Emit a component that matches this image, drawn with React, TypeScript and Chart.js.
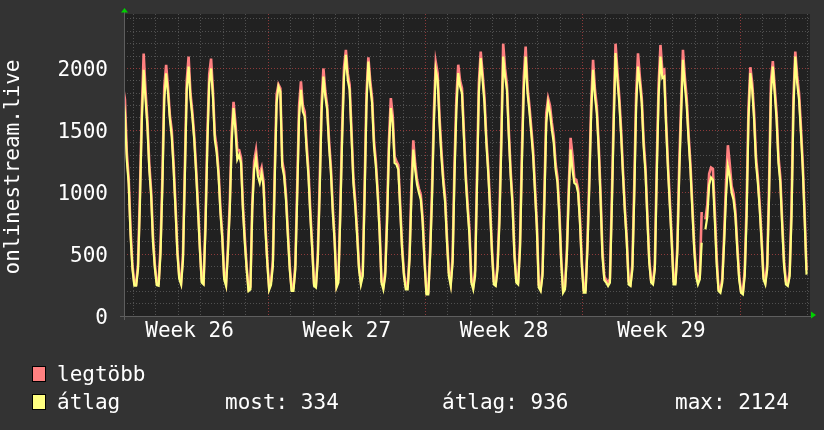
import React, { useEffect, useRef } from 'react';
import { Chart, registerables } from 'chart.js';

Chart.register(...registerables);

// time axis: hours counted from Monday 00:00 of week 26, samples every 2 hours
const START_HOUR = 13;
const STEP_HOURS = 2;
const X_MIN = 14;
const X_MAX = 746.7;
const Y_MAX = 2440;

const weekLabels = ['Week 26', 'Week 27', 'Week 28', 'Week 29'];
const yTickLabels = [0, 500, 1000, 1500, 2000];
const legendNames = ['legtöbb', 'átlag'];
const legendStats = ['most: 334', 'átlag: 936', 'max: 2124'];

// átlag (average)
const avgWeek26 = [
  1780, 1640, 1260, 1070, 650, 380,
  245, 245, 380, 900, 1570, 1990, 1750, 1530, 1180, 970, 590, 380,
  250, 245, 500, 1050, 1750, 1960, 1800, 1590, 1450, 1180, 860, 510,
  300, 255, 450, 1130, 1830, 2015, 1760, 1610, 1425, 1155, 860, 540,
  270, 255, 700, 1370, 1880, 2000, 1770, 1425, 1320, 1130, 835, 620,
  296, 243, 510, 860, 1400, 1680, 1505, 1264, 1300, 1237, 860, 592,
  377, 202, 215, 860, 1183, 1277, 1130, 1075, 1156, 1049, 700, 430,
];
const avgWeek27 = [
  210, 250, 404, 1100, 1720, 1855, 1815, 1210, 1130, 940, 645, 377,
  202, 202, 377, 968, 1613, 1828, 1653, 1613, 1344, 1130, 807, 538,
  243, 230, 457, 995, 1640, 1935, 1774, 1667, 1371, 1156, 834, 592,
  230, 270, 800, 1435, 1935, 2110, 1908, 1828, 1452, 1075, 887, 645,
  377, 255, 323, 968, 1720, 2056, 1855, 1720, 1371, 1210, 968, 672,
  270, 215, 323, 753, 1344, 1680, 1560, 1237, 1224, 1183, 860, 538,
  323, 215, 215, 457, 968, 1344, 1183, 1062, 995, 941, 753, 430,
];
const avgWeek28 = [
  175, 175, 485, 950, 1560, 1989, 1908, 1560, 1290, 1075, 914, 592,
  323, 243, 430, 1130, 1667, 1962, 1855, 1801, 1452, 1102, 860, 645,
  270, 215, 323, 1049, 1801, 2083, 1908, 1720, 1398, 1156, 860, 511,
  255, 243, 377, 753, 1371, 2096, 1935, 1828, 1452, 1130, 887, 484,
  270, 255, 538, 1237, 1828, 2096, 1801, 1653, 1478, 1290, 995, 700,
  230, 202, 323, 914, 1560, 1720, 1640, 1505, 1398, 1183, 1075, 807,
  430, 188, 215, 484, 968, 1344, 1183, 1075, 1062, 995, 753, 404,
];
const avgWeek29 = [
  188, 188, 538, 1049, 1640, 1989, 1774, 1640, 1344, 940, 484, 290,
  270, 243, 270, 860, 1532, 2124, 1908, 1720, 1452, 1130, 834, 592,
  255, 243, 377, 968, 1694, 2015, 1881, 1720, 1371, 1156, 780, 430,
  270, 255, 377, 1130, 1774, 2096, 1922, 1935, 1532, 1183, 887, 592,
  255, 255, 511, 1130, 1613, 2070, 1868, 1700, 1425, 1183, 860, 538,
  323, 255, 296, 592, null, 700, 800, 1060, 1120, 1100, 780, 420,
  202, 188, 270, 592, 968, 1210, 1130, 995, 941, 807, 538, 296,
];
const avgWeek30 = [
  188, 175, 323, 807, 1586, 1962, 1828, 1586, 1237, 1075, 860, 592,
  296, 255, 377, 968, 1801, 2015, 1801, 1586, 1237, 1075, 726, 404,
  255, 243, 323, 807, 1667, 2096, 1881, 1747, 1478, 1183, 780, 334,
];

// legtöbb (maximum)
const maxWeek26 = [
  1850, 1750, 1320, 1110, 700, 410,
  270, 260, 420, 1000, 1650, 2120, 1820, 1580, 1230, 1010, 640, 410,
  270, 265, 560, 1120, 1850, 2030, 1850, 1620, 1500, 1230, 900, 540,
  320, 270, 500, 1200, 1900, 2096, 1800, 1650, 1460, 1200, 900, 570,
  290, 270, 760, 1450, 1950, 2080, 1820, 1470, 1360, 1170, 870, 650,
  320, 260, 560, 920, 1480, 1730, 1560, 1344, 1340, 1280, 900, 640,
  400, 220, 235, 900, 1250, 1340, 1180, 1150, 1200, 1090, 740, 460,
];
const maxWeek27 = [
  230, 280, 450, 1180, 1790, 1870, 1840, 1250, 1170, 980, 690, 410,
  220, 225, 420, 1050, 1700, 1895, 1700, 1650, 1400, 1180, 850, 570,
  260, 250, 500, 1080, 1720, 2000, 1820, 1700, 1420, 1200, 880, 620,
  250, 300, 870, 1520, 2010, 2150, 1960, 1870, 1500, 1120, 930, 690,
  400, 280, 360, 1040, 1800, 2090, 1900, 1760, 1420, 1250, 1010, 710,
  290, 240, 360, 830, 1420, 1760, 1620, 1290, 1250, 1220, 900, 570,
  350, 240, 240, 500, 1050, 1420, 1230, 1100, 1030, 980, 790, 460,
];
const maxWeek28 = [
  190, 190, 540, 1030, 1650, 2050, 1960, 1610, 1340, 1120, 960, 630,
  350, 270, 480, 1220, 1760, 2030, 1900, 1840, 1500, 1150, 910, 690,
  290, 240, 370, 1130, 1880, 2137, 1960, 1770, 1440, 1200, 900, 540,
  280, 260, 420, 830, 1460, 2200, 2000, 1870, 1500, 1170, 930, 520,
  290, 280, 600, 1330, 1930, 2177, 1850, 1700, 1520, 1340, 1040, 740,
  250, 220, 360, 990, 1640, 1760, 1700, 1560, 1450, 1230, 1120, 850,
  460, 210, 235, 530, 1040, 1440, 1300, 1110, 1100, 1030, 790, 440,
];
const maxWeek29 = [
  210, 210, 600, 1130, 1720, 2070, 1830, 1690, 1390, 990, 530, 320,
  290, 270, 300, 940, 1620, 2200, 1980, 1770, 1500, 1170, 870, 630,
  280, 260, 420, 1060, 1790, 2123, 1930, 1760, 1420, 1200, 820, 460,
  290, 275, 420, 1220, 1870, 2190, 1980, 1990, 1580, 1230, 930, 630,
  280, 275, 560, 1220, 1700, 2150, 1930, 1760, 1470, 1230, 900, 580,
  360, 290, 330, 840, null, 780, 900, 1150, 1200, 1190, 850, 480,
  220, 210, 300, 650, 1080, 1380, 1230, 1050, 990, 850, 580, 330,
];
const maxWeek30 = [
  205, 195, 370, 900, 1680, 2010, 1880, 1640, 1290, 1120, 900, 630,
  320, 280, 420, 1060, 1900, 2060, 1850, 1640, 1290, 1120, 770, 440,
  280, 265, 360, 900, 1760, 2137, 1940, 1800, 1530, 1230, 820, 370,
];

const COLORS = {
  page: '#333333',
  plot: '#212121',
  gridMinor: 'rgba(120,120,120,0.55)',
  gridMajor: 'rgba(190,70,70,0.7)',
  axis: '#5e5e5e',
  text: '#ffffff',
  avg: '#ffff80',
  max: '#ff8080',
  arrow: '#00d000',
};

const FONT = '"DejaVu Sans Mono", monospace';

const avgAll = [...avgWeek26, ...avgWeek27, ...avgWeek28, ...avgWeek29, ...avgWeek30];
const maxAll = [...maxWeek26, ...maxWeek27, ...maxWeek28, ...maxWeek29, ...maxWeek30];
const toPoints = (arr: (number | null)[]) =>
  arr.map((v, i) => ({ x: START_HOUR + i * STEP_HOURS, y: v }));

const dayTicks: number[] = [];
for (let h = 24; h < X_MAX; h += 24) dayTicks.push(h);
const hundredTicks: number[] = [];
for (let v = 0; v <= 2400; v += 100) hundredTicks.push(v);

const decorPlugin = {
  id: 'rrdDecor',
  beforeDraw(chart: any) {
    const { ctx, chartArea } = chart;
    ctx.save();
    ctx.fillStyle = COLORS.page;
    ctx.fillRect(0, 0, chart.width, chart.height);
    ctx.fillStyle = COLORS.plot;
    ctx.fillRect(chartArea.left, chartArea.top, chartArea.right - chartArea.left, chartArea.bottom - chartArea.top);
    ctx.restore();
  },
  afterDraw(chart: any) {
    const { ctx, chartArea } = chart;
    const xs = chart.scales.x;
    const ys = chart.scales.y;
    ctx.save();
    // axes
    ctx.strokeStyle = COLORS.axis;
    ctx.lineWidth = 1;
    ctx.beginPath();
    ctx.moveTo(chartArea.left + 0.5, chartArea.top - 2);
    ctx.lineTo(chartArea.left + 0.5, chartArea.bottom + 4);
    ctx.moveTo(chartArea.left - 4, chartArea.bottom + 0.5);
    ctx.lineTo(chartArea.right + 2, chartArea.bottom + 0.5);
    ctx.stroke();
    // arrows
    ctx.fillStyle = COLORS.arrow;
    ctx.beginPath();
    ctx.moveTo(chartArea.left + 0.5, chartArea.top - 6);
    ctx.lineTo(chartArea.left - 3, chartArea.top - 1.5);
    ctx.lineTo(chartArea.left + 4, chartArea.top - 1.5);
    ctx.closePath();
    ctx.fill();
    ctx.beginPath();
    ctx.moveTo(chartArea.right + 6, chartArea.bottom - 1);
    ctx.lineTo(chartArea.right + 1, chartArea.bottom - 4.5);
    ctx.lineTo(chartArea.right + 1, chartArea.bottom + 2.5);
    ctx.closePath();
    ctx.fill();

    ctx.fillStyle = COLORS.text;
    ctx.font = `21px ${FONT}`;
    // y tick labels
    ctx.textAlign = 'right';
    ctx.textBaseline = 'alphabetic';
    yTickLabels.forEach((v) => {
      ctx.fillText(String(v), chartArea.left - 16, ys.getPixelForValue(v) + 7.5);
    });
    // x week labels
    ctx.textAlign = 'center';
    weekLabels.forEach((lab, i) => {
      ctx.fillText(lab, xs.getPixelForValue(84 + 168 * i), 337);
    });
    // y title
    ctx.save();
    ctx.translate(19, (chartArea.top + chartArea.bottom) / 2 + 2);
    ctx.rotate(-Math.PI / 2);
    ctx.textAlign = 'center';
    ctx.fillText('onlinestream.live', 0, 0);
    ctx.restore();

    // legend
    const boxes = [
      { y: 366, color: COLORS.max },
      { y: 394, color: COLORS.avg },
    ];
    boxes.forEach((b) => {
      ctx.fillStyle = b.color;
      ctx.fillRect(32, b.y, 14, 16);
      ctx.strokeStyle = '#000';
      ctx.lineWidth = 1;
      ctx.strokeRect(32.5, b.y + 0.5, 13, 15);
    });
    ctx.fillStyle = COLORS.text;
    ctx.font = `21px ${FONT}`;
    ctx.textAlign = 'left';
    ctx.fillText(legendNames[0], 57, 381);
    ctx.fillText(legendNames[1], 57, 409);
    const statX = [225, 442, 675];
    legendStats.forEach((t, i) => ctx.fillText(t, statX[i], 409));
    ctx.restore();
  },
};

export default function App() {
  const ref = useRef<HTMLCanvasElement | null>(null);
  useEffect(() => {
    if (!ref.current) return;
    const chart = new Chart(ref.current, {
      type: 'line',
      data: {
        datasets: [
          {
            label: legendNames[1],
            data: toPoints(avgAll),
            borderColor: COLORS.avg,
            borderWidth: 2.2,
            pointRadius: 0,
            tension: 0,
            order: 0,
          },
          {
            label: legendNames[0],
            data: toPoints(maxAll),
            borderColor: COLORS.max,
            borderWidth: 2.6,
            pointRadius: 0,
            tension: 0,
            order: 1,
          },
        ],
      },
      options: {
        animation: false,
        responsive: false,
        maintainAspectRatio: false,
        events: [],
        layout: { padding: { left: 124, top: 14, right: 14, bottom: 114 } },
        plugins: { legend: { display: false }, tooltip: { enabled: false }, title: { display: false } },
        scales: {
          x: {
            type: 'linear',
            min: X_MIN,
            max: X_MAX,
            afterBuildTicks: (s: any) => {
              s.ticks = dayTicks.map((v) => ({ value: v }));
            },
            afterFit: (s: any) => {
              s.height = 0;
            },
            ticks: { display: false },
            grid: {
              drawTicks: false,
              lineWidth: 1,
              color: (c: any) => (c.tick && c.tick.value % 168 === 0 ? COLORS.gridMajor : COLORS.gridMinor),
            },
            border: { display: false, dash: [1, 2] },
          },
          y: {
            min: 0,
            max: Y_MAX,
            afterBuildTicks: (s: any) => {
              s.ticks = hundredTicks.map((v) => ({ value: v }));
            },
            afterFit: (s: any) => {
              s.width = 0;
            },
            ticks: { display: false },
            grid: {
              drawTicks: false,
              lineWidth: 1,
              color: (c: any) =>
                c.tick && c.tick.value === 0
                  ? 'rgba(0,0,0,0)'
                  : c.tick && c.tick.value % 500 === 0
                  ? COLORS.gridMajor
                  : COLORS.gridMinor,
            },
            border: { display: false, dash: [1, 2] },
          },
        },
      },
      plugins: [decorPlugin],
    } as any);
    return () => chart.destroy();
  }, []);
  return (
    <div style={{ position: 'fixed', left: 0, top: 0, width: 824, height: 430, background: COLORS.page }}>
      <canvas ref={ref} width={824} height={430} style={{ width: 824, height: 430, display: 'block' }} />
    </div>
  );
}
